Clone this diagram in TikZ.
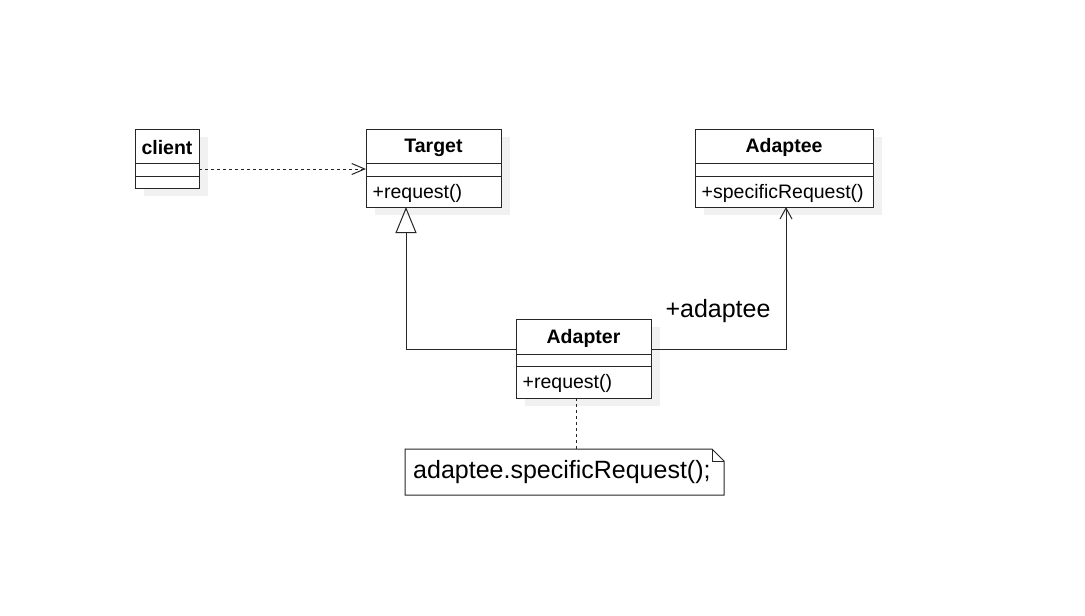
\documentclass[tikz,border=0pt]{standalone}
\usepackage{fontspec}
\setmainfont{Liberation Sans}
\usetikzlibrary{arrows.meta,calc}
\definecolor{shadowgray}{HTML}{F1F1F1}
\tikzset{
  classbox/.style={draw=black!85, line width=1pt, fill=white, inner sep=0pt, outer sep=0pt, anchor=north west},
  classshadow/.style={fill=shadowgray, draw=none},
  title/.style={font=\fontsize{19.5}{22}\selectfont\bfseries, inner sep=0pt},
  member/.style={font=\fontsize{19.5}{22}\selectfont, inner sep=0pt, anchor=west},
  bigtext/.style={font=\fontsize{25}{28}\selectfont, inner sep=0pt},
  conn/.style={draw=black!85, line width=1pt},
  sepline/.style={draw=black!85, line width=1pt},
}
\begin{document}
\begin{tikzpicture}[x=1pt,y=-1pt]
\path[use as bounding box, fill=white] (0,0) rectangle (1085,616);
% shadows
\fill[shadowgray] (144,137) rectangle ++(64,59);
\fill[shadowgray] (375,137) rectangle ++(135,78);
\fill[shadowgray] (704,137) rectangle ++(178,78);
\fill[shadowgray] (525,327) rectangle ++(135,79);
% boxes
\node[classbox, minimum width=64pt, minimum height=59pt] (client) at (135,129) {};
\node[classbox, minimum width=135pt, minimum height=78pt] (target) at (366,129) {};
\node[classbox, minimum width=178pt, minimum height=78pt] (adaptee) at (695,129) {};
\node[classbox, minimum width=135pt, minimum height=79pt] (adapter) at (516,319) {};
% separators
\draw[sepline] ($(client.north west)+(0,34)$) -- ($(client.north east)+(0,34)$);
\draw[sepline] ($(client.north west)+(0,47)$) -- ($(client.north east)+(0,47)$);
\draw[sepline] ($(target.north west)+(0,34)$) -- ($(target.north east)+(0,34)$);
\draw[sepline] ($(target.north west)+(0,47)$) -- ($(target.north east)+(0,47)$);
\draw[sepline] ($(adaptee.north west)+(0,34)$) -- ($(adaptee.north east)+(0,34)$);
\draw[sepline] ($(adaptee.north west)+(0,47)$) -- ($(adaptee.north east)+(0,47)$);
\draw[sepline] ($(adapter.north west)+(0,35)$) -- ($(adapter.north east)+(0,35)$);
\draw[sepline] ($(adapter.north west)+(0,47)$) -- ($(adapter.north east)+(0,47)$);
% texts
\node[title] (clientT) at ($(client.north)+(0,18.5)$) {client};
\node[title] (targetT) at ($(target.north)+(0,18.5)$) {Target};
\node[title] (adapteeT) at ($(adaptee.north)+(0,18.5)$) {Adaptee};
\node[title] (adapterT) at ($(adapter.north)+(0,19)$) {Adapter};
\node[member] (targetM) at ($(target.north west)+(6.5,64)$) {+request()};
\node[member] (adapteeM) at ($(adaptee.north west)+(6.5,64)$) {+specificRequest()};
\node[member] (adapterM) at ($(adapter.north west)+(6.5,64.5)$) {+request()};
% note
\node[inner sep=0pt, outer sep=0pt, minimum width=319pt, minimum height=46pt, anchor=north west] (note) at (405,449) {};
\draw[conn, fill=white] (note.north west) -- ($(note.north east)+(-12,0)$) -- ($(note.north east)+(0,12)$) -- (note.south east) -- (note.south west) -- cycle;
\draw[conn] ($(note.north east)+(-12,0)$) -- ($(note.north east)+(-12,12)$) -- ($(note.north east)+(0,12)$);
\node[bigtext, anchor=west] (noteT) at ($(note.west)+(8,0.5)$) {adaptee.specificRequest();};
% connectors
\draw[conn, dash pattern=on 3pt off 3pt, -{Straight Barb[length=13pt,width=11pt,line width=1pt]}]
  ($(client.north east)+(0,40)$) -- ($(target.north west)+(0,40)$);
\draw[conn, -{Triangle[open,length=26pt,width=21pt,line width=1pt]}]
  ($(adapter.north west)+(0,30)$) -| ($(target.south west)+(40,0)$);
\draw[conn, -{Straight Barb[length=11pt,width=12pt,line width=1pt]}]
  ($(adapter.north east)+(0,30)$) -| ($(adaptee.south west)+(91,0)$);
\draw[conn, dash pattern=on 3pt off 3pt] ($(adapter.south west)+(60,0)$) -- ($(note.north west)+(171,0)$);
\node[bigtext] (assocLabel) at (718,311) {+adaptee};
\end{tikzpicture}
\end{document}
